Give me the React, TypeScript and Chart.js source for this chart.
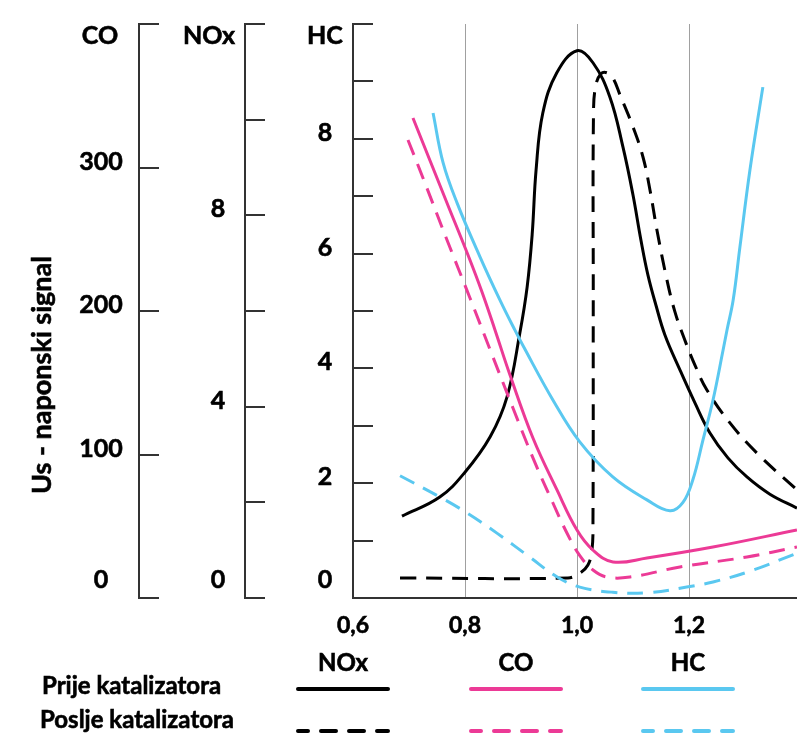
import React, { useEffect, useRef } from "react";
import { Chart, registerables } from "chart.js";

Chart.register(...registerables);

// ---- Data (lambda on x, signal on each series' own axis) ----
const noxBeforeX = [0.6875, 0.755, 0.8, 0.845, 0.875, 0.898, 0.911, 0.92, 0.927, 0.939, 0.964, 1.0, 1.0286, 1.0589, 1.0821, 1.1, 1.1143, 1.1268, 1.1411, 1.1571, 1.1839, 1.2107, 1.2375, 1.2696, 1.3036, 1.3446, 1.393];
const noxBeforeY = [1.71, 2.11, 2.63, 3.37, 4.2, 5.54, 6.5, 7.6, 8.95, 10.14, 10.98, 11.44, 11.19, 10.47, 9.43, 8.43, 7.48, 6.75, 6.12, 5.5, 4.77, 4.08, 3.45, 2.93, 2.53, 2.17, 1.88];

const noxAfterX = [0.684, 0.984, 1.005, 1.0196, 1.0268, 1.0286, 1.0291, 1.0296, 1.0339, 1.0429, 1.0536, 1.0643, 1.0768, 1.1, 1.1179, 1.1304, 1.1429, 1.1607, 1.175, 1.1911, 1.2107, 1.2321, 1.2732, 1.3214, 1.393];
const noxAfterY = [0.42, 0.42, 0.52, 0.69, 1.0, 1.63, 6.23, 10.2, 10.73, 10.96, 10.98, 10.87, 10.52, 9.85, 9.22, 8.53, 7.69, 6.65, 5.98, 5.44, 4.87, 4.35, 3.66, 3.03, 2.26];

const coBeforeX = [0.7071, 0.7679, 0.8054, 0.8304, 0.8536, 0.8804, 0.9214, 0.9643, 1.0, 1.0286, 1.0643, 1.125, 1.2429, 1.3929];
const coBeforeY = [334.5, 275.3, 239.0, 213.2, 186.8, 155.4, 111.5, 75.3, 47.4, 33.4, 25.1, 27.9, 35.5, 47.4];

const coAfterX = [0.6982, 0.725, 0.7679, 0.8089, 0.85, 0.8857, 0.9214, 0.9571, 0.9839, 1.0054, 1.0286, 1.0536, 1.0946, 1.1839, 1.3036, 1.3929];
const coAfterY = [319.2, 292.7, 249.5, 209.1, 167.9, 132.4, 97.6, 66.2, 43.9, 29.3, 19.5, 14.6, 14.6, 21.6, 28.6, 35.5];

const hcBeforeX = [0.743, 0.761, 0.786, 0.827, 0.8625, 0.889, 0.904, 0.957, 1.005, 1.064, 1.125, 1.166, 1.189, 1.207, 1.225, 1.243, 1.261, 1.268, 1.279, 1.291, 1.309, 1.332];
const hcBeforeY = [8.45, 7.58, 6.88, 5.94, 5.19, 4.67, 4.39, 3.45, 2.72, 2.11, 1.71, 1.52, 1.66, 2.06, 2.75, 3.45, 4.32, 4.67, 5.19, 6.11, 7.46, 8.9];

const hcAfterX = [0.684, 0.755, 0.804, 0.857, 0.916, 0.964, 1.005, 1.064, 1.125, 1.196, 1.243, 1.304, 1.393];
const hcAfterY = [2.13, 1.76, 1.48, 1.13, 0.71, 0.37, 0.19, 0.1, 0.09, 0.19, 0.28, 0.45, 0.78];

// ---- Axes / ticks ----
const xMin = 0.6;
const xMax = 1.393;
const xTickValues = [0.6, 0.8, 1.0, 1.2];
const xTickLabels = ["0,6", "0,8", "1,0", "1,2"];
const xGridValues = [0.8, 1.0, 1.2];

const coMax = 400;
const coTicks = [0, 100, 200, 300, 400];
const coLabels = ["0", "100", "200", "300"];
const noxMax = 12;
const noxTicks = [0, 2, 4, 6, 8, 10, 12];
const noxLabels = ["0", "4", "8"];
const hcMax = 10;
const hcTicks = [0, 1, 2, 3, 4, 5, 6, 7, 8, 9, 10];
const hcLabels = ["0", "2", "4", "6", "8"];

const axisTitle = "Us - naponski signal";
const seriesNames = ["NOx", "CO", "HC"];
const rowNames = ["Prije katalizatora", "Poslje katalizatora"];

const BLACK = "#000000";
const PINK = "#EC3A96";
const BLUE = "#5AC8F0";
const seriesColors = [BLACK, PINK, BLUE];
const DASH = [16, 10];
const FONT = 'Lato, "Open Sans", sans-serif';

const pts = (xs: number[], ys: number[]) => xs.map((x, i) => ({ x, y: ys[i] }));

function boldText(ctx: CanvasRenderingContext2D, s: string, x: number, y: number) {
  ctx.fillText(s, x, y);
  ctx.lineWidth = 0.6;
  ctx.strokeStyle = "#000";
  ctx.strokeText(s, x, y);
}

const customPlugin = {
  id: "customAxes",
  beforeDatasetsDraw(chart: any) {
    const ctx = chart.ctx as CanvasRenderingContext2D;
    const { top, bottom } = chart.chartArea;
    const xs = chart.scales.x;
    ctx.save();
    ctx.strokeStyle = "#a0a0a0";
    ctx.lineWidth = 1;
    for (const v of xGridValues) {
      const px = Math.round(xs.getPixelForValue(v)) + 0.5;
      ctx.beginPath();
      ctx.moveTo(px, top);
      ctx.lineTo(px, bottom);
      ctx.stroke();
    }
    ctx.restore();
  },
  afterDatasetsDraw(chart: any) {
    const ctx = chart.ctx as CanvasRenderingContext2D;
    const { top, bottom, left, right } = chart.chartArea;
    const xs = chart.scales.x;
    ctx.save();

    // X axis line
    ctx.strokeStyle = "#333";
    ctx.lineWidth = 2;
    ctx.beginPath();
    ctx.moveTo(left - 1, bottom);
    ctx.lineTo(right, bottom);
    ctx.stroke();

    // X tick labels
    ctx.fillStyle = "#000";
    ctx.font = `bold 23px ${FONT}`;
    ctx.textAlign = "center";
    ctx.textBaseline = "alphabetic";
    xTickValues.forEach((v, i) => {
      boldText(ctx, xTickLabels[i], xs.getPixelForValue(v), 633);
    });

    // Y axes
    const axes = [
      { id: "yCO", x: 139, ticks: coTicks, labels: coLabels, title: "CO", titleX: 100, labelX: 101 },
      { id: "yNOx", x: 245, ticks: noxTicks, labels: noxLabels, title: "NOx", titleX: 209, labelX: 218 },
      { id: "yHC", x: left, ticks: hcTicks, labels: hcLabels, title: "HC", titleX: 325, labelX: 325 },
    ];
    for (const ax of axes) {
      const sc = chart.scales[ax.id];
      const ax0 = Math.round(ax.x);
      ctx.strokeStyle = "#333";
      ctx.lineWidth = 2;
      ctx.beginPath();
      ctx.moveTo(ax0, top - 1);
      ctx.lineTo(ax0, bottom + 1);
      ctx.stroke();
      for (const t of ax.ticks) {
        const py = Math.round(sc.getPixelForValue(t));
        ctx.beginPath();
        ctx.moveTo(ax0 - 1, py);
        ctx.lineTo(ax0 + 20, py);
        ctx.stroke();
      }
      ctx.font = `bold 25px ${FONT}`;
      ctx.textAlign = "center";
      for (const lab of ax.labels) {
        const v = Number(lab);
        const py = sc.getPixelForValue(v);
        const base = v === 0 ? py - 10 : py + 2;
        boldText(ctx, lab, ax.labelX, base);
      }
      boldText(ctx, ax.title, ax.titleX, 44);
    }

    // Rotated axis title
    ctx.save();
    ctx.translate(51, 375);
    ctx.rotate(-Math.PI / 2);
    ctx.textAlign = "center";
    ctx.font = `bold 27px ${FONT}`;
    boldText(ctx, axisTitle, 0, 0);
    ctx.restore();

    // Legend
    const colX = [343, 516, 688];
    const lineX = [[298, 388], [471, 561], [643, 733]];
    ctx.font = `bold 24px ${FONT}`;
    ctx.textAlign = "center";
    seriesNames.forEach((n, i) => boldText(ctx, n, colX[i], 671));
    ctx.font = `bold 24px ${FONT}`;
    ctx.textAlign = "left";
    boldText(ctx, rowNames[0], 42, 694);
    boldText(ctx, rowNames[1], 40, 728);
    ctx.lineWidth = 4;
    ctx.lineCap = "round";
    seriesColors.forEach((c, i) => {
      ctx.strokeStyle = c;
      ctx.setLineDash([]);
      ctx.beginPath();
      ctx.moveTo(lineX[i][0], 689);
      ctx.lineTo(lineX[i][1], 689);
      ctx.stroke();
      ctx.setLineDash([15, 13]);
      ctx.lineDashOffset = 5;
      ctx.beginPath();
      ctx.moveTo(lineX[i][0], 731);
      ctx.lineTo(lineX[i][1], 731);
      ctx.stroke();
    });
    ctx.restore();
  },
};

export default function App() {
  const ref = useRef<HTMLCanvasElement | null>(null);
  useEffect(() => {
    if (!ref.current) return;
    const smooth = { borderWidth: 3, pointRadius: 0, tension: 0.4, fill: false };
    const chart = new Chart(ref.current, {
      type: "line",
      data: {
        datasets: [
          { label: "HC poslije", data: pts(hcAfterX, hcAfterY), yAxisID: "yHC", borderColor: BLUE, borderDash: DASH, ...smooth },
          { label: "CO poslije", data: pts(coAfterX, coAfterY), yAxisID: "yCO", borderColor: PINK, borderDash: DASH, ...smooth },
          { label: "HC prije", data: pts(hcBeforeX, hcBeforeY), yAxisID: "yHC", borderColor: BLUE, ...smooth },
          { label: "CO prije", data: pts(coBeforeX, coBeforeY), yAxisID: "yCO", borderColor: PINK, ...smooth },
          { label: "NOx poslije", data: pts(noxAfterX, noxAfterY), yAxisID: "yNOx", borderColor: BLACK, borderDash: DASH, ...smooth },
          { label: "NOx prije", data: pts(noxBeforeX, noxBeforeY), yAxisID: "yNOx", borderColor: BLACK, ...smooth },
        ],
      },
      options: {
        animation: false,
        responsive: false,
        maintainAspectRatio: false,
        layout: { padding: { left: 353, top: 24, right: 0, bottom: 141 } },
        plugins: { legend: { display: false }, tooltip: { enabled: false } },
        scales: {
          x: { type: "linear", min: xMin, max: xMax, display: false },
          yCO: { type: "linear", min: 0, max: coMax, display: false },
          yNOx: { type: "linear", min: 0, max: noxMax, display: false },
          yHC: { type: "linear", min: 0, max: hcMax, display: false },
        },
      },
      plugins: [customPlugin],
    });
    return () => chart.destroy();
  }, []);
  return (
    <div style={{ position: "fixed", left: 0, top: 0, width: 797, height: 739, background: "#fff" }}>
      <canvas ref={ref} width={797} height={739} style={{ display: "block", width: 797, height: 739 }} />
    </div>
  );
}
